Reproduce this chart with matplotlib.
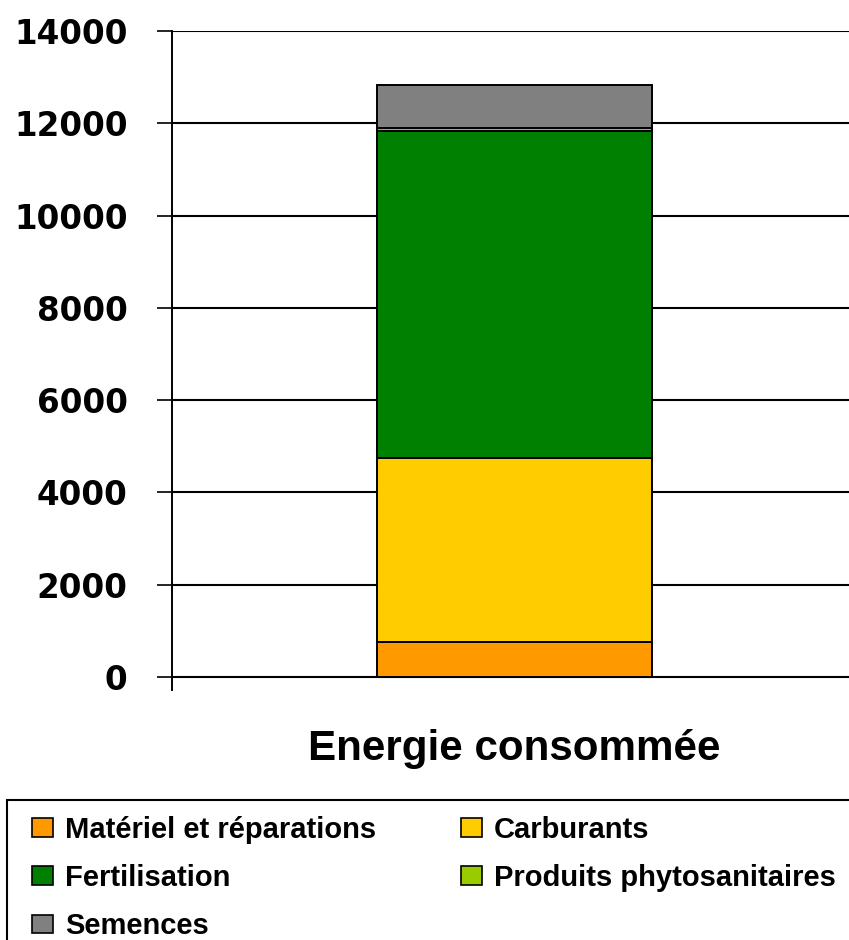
import numpy as np
import matplotlib
matplotlib.use("Agg")
import matplotlib.pyplot as plt
from matplotlib.patches import Patch, Rectangle

# values (stacked, bottom to top)
categories = ["Energie consommée"]
labels = ["Matériel et réparations", "Carburants", "Fertilisation",
          "Produits phytosanitaires", "Semences"]
values = [750, 3995, 7090, 70, 920]
colors = ["#FF9900", "#FFCC00", "#008000", "#99CC00", "#808080"]
yticks = [0, 2000, 4000, 6000, 8000, 10000, 12000, 14000]

W, H = 849, 940
fig = plt.figure(figsize=(W / 100, H / 100), dpi=100)
ax = fig.add_axes([172 / W, (H - 690) / H, 1 - 172 / W, (690 - 31) / H])

bottom = 0
for lab, v, c in zip(labels, values, colors):
    ax.bar(0, v, width=0.5, bottom=bottom, color=c, edgecolor="black",
           linewidth=1.4, label=lab, zorder=3)
    bottom += v

ax.set_xlim(-(514.5 - 172) / 550, (849 - 514.5) / 550)
ax.set_ylim(-280, 14000)
ax.set_yticks(yticks)
ax.set_yticklabels([str(t) for t in yticks], fontfamily="DejaVu Sans",
                   fontweight="heavy", fontsize=23.5)
ax.tick_params(axis="y", direction="out", length=11, width=1.2, pad=21,
               color="black")
ax.set_xticks([])
ax.grid(axis="y", color="black", linewidth=1.5)
ax.set_axisbelow(True)
for s in ["top", "right", "bottom"]:
    ax.spines[s].set_visible(False)
ax.spines["left"].set_linewidth(1.4)

ax.text(0, (690 - 760) / 659, categories[0], transform=ax.get_xaxis_transform(),
        ha="center", va="baseline", fontsize=30.3, fontweight="bold",
        fontfamily="Liberation Sans")

# legend box (runs off the figure edges as in the original)
fig.patches.append(Rectangle((7 / W, -0.1), 1.0, 0.1 + (H - 800) / H,
                             transform=fig.transFigure, facecolor="white",
                             edgecolor="black", linewidth=1.5, zorder=0))

handles = [Patch(facecolor=c, edgecolor="black", linewidth=1.2) for c in colors]
order = [0, 2, 4, 1, 3]
fig.legend([handles[i] for i in order], [labels[i] for i in order],
           loc="upper left", bbox_to_anchor=(32 / W, 1 - 816 / H),
           ncol=2, frameon=False, borderpad=0, borderaxespad=0,
           prop={"family": "Liberation Sans", "weight": "bold", "size": 21},
           handlelength=0.72, handleheight=0.62, handletextpad=0.41,
           columnspacing=2.9, labelspacing=0.69)

fig.savefig("out.png", dpi=100)
